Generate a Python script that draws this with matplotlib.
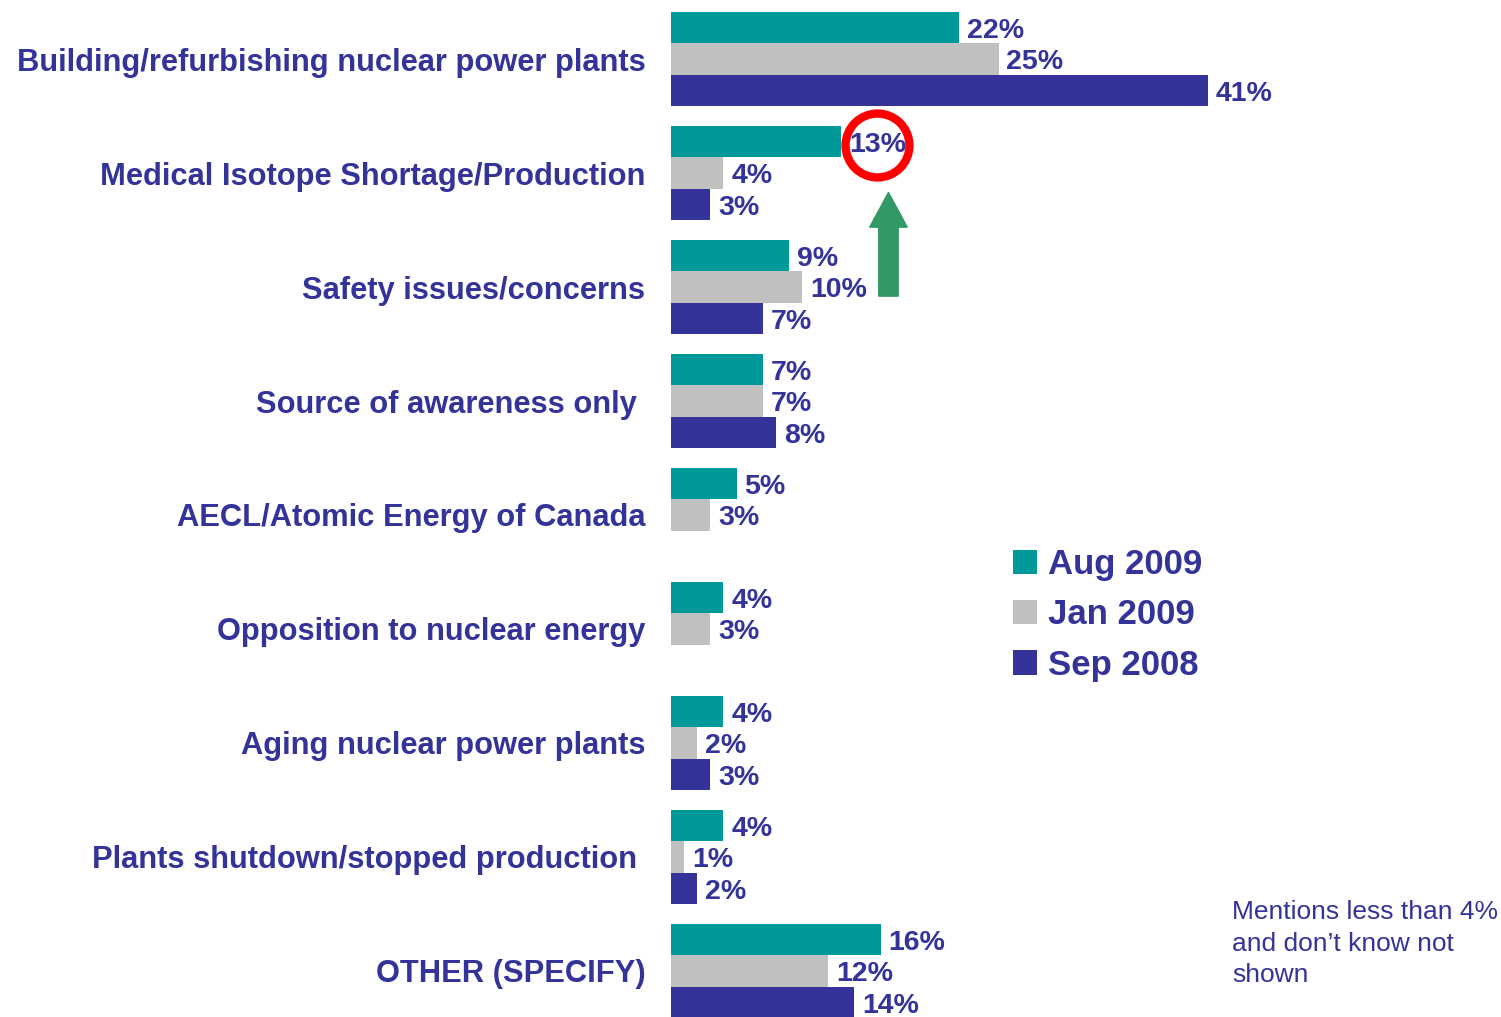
import numpy as np
import matplotlib
matplotlib.use('Agg')
import matplotlib.pyplot as plt
from matplotlib.patches import Patch

plt.rcParams['font.family'] = ['Liberation Sans', 'DejaVu Sans']

categories = [
    'Building/refurbishing nuclear power plants',
    'Medical Isotope Shortage/Production',
    'Safety issues/concerns',
    'Source of awareness only ',
    'AECL/Atomic Energy of Canada',
    'Opposition to nuclear energy',
    'Aging nuclear power plants',
    'Plants shutdown/stopped production ',
    'OTHER (SPECIFY)',
]
series_names = ['Aug 2009', 'Jan 2009', 'Sep 2008']
aug_2009 = [22, 13, 9, 7, 5, 4, 4, 4, 16]
jan_2009 = [25, 4, 10, 7, 3, 3, 2, 1, 12]
sep_2008 = [41, 3, 7, 8, None, None, 3, 2, 14]

colors = ['#009999', '#C0C0C0', '#333399']
navy = '#333399'

fig = plt.figure(figsize=(15.01, 10.17), dpi=100)
ax = fig.add_axes([671 / 1501, 0, 830 / 1501, 1])

y = np.arange(len(categories))
h = 0.277
for k, vals in enumerate([aug_2009, jan_2009, sep_2008]):
    for i, v in enumerate(vals):
        if v is None:
            continue
        yy = y[i] + (k - 1) * h
        ax.barh(yy, v, height=h, color=colors[k], edgecolor='none')
        ax.text(v + 0.6, yy + 0.03, f'{v}%', va='center', ha='left',
                fontsize=20.5, fontweight='bold', color=navy)

ax.set_xlim(0, 830 / 13.1)
ax.set_ylim(8.404, -0.518)
ax.set_yticks(y)
ax.set_yticklabels(categories, fontsize=22.2, fontweight='bold', color=navy)
ax.tick_params(axis='y', length=0, pad=18.5)
ax.tick_params(axis='x', bottom=False, labelbottom=False)
for s in ax.spines.values():
    s.set_visible(False)

# highlight the Aug 2009 isotope value
ax.plot(15.7, 0.75, marker='o', ms=46, mfc='none', mec='#FF0000', mew=6)
ax.annotate('', xy=(16.6, 1.17), xytext=(16.6, 2.08),
            arrowprops=dict(arrowstyle='simple,head_length=1.25,head_width=1.35,tail_width=0.7',
                            color='#339966', shrinkA=0, shrinkB=0, mutation_scale=20))

handles = [Patch(facecolor=c, edgecolor='none') for c in colors]
leg = fig.legend(handles, series_names, loc='upper left',
                 bbox_to_anchor=(1013 / 1501, 1 - 548 / 1017), frameon=False,
                 prop={'size': 25, 'weight': 'bold'}, labelcolor=navy,
                 handlelength=0.7, handleheight=0.7, handletextpad=0.3,
                 labelspacing=0.5, borderpad=0, borderaxespad=0)

fig.text(1232 / 1501, 1 - 900 / 1017,
         'Mentions less than 4%\nand don\u2019t know not\nshown',
         fontsize=19, color=navy, va='top', ha='left', linespacing=1.4)

fig.savefig('out.png', dpi=100)
